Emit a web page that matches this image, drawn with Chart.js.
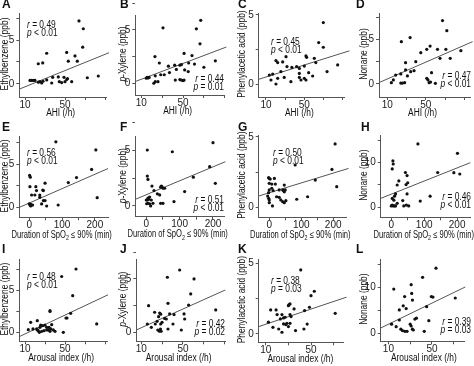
<!DOCTYPE html>
<html>
<head>
<meta charset="utf-8">
<script src="https://cdn.jsdelivr.net/npm/chart.js@4.4.1/dist/chart.umd.min.js"></script>
<style>
  body { margin: 0; background: #fff; }
  #wrap { position: relative; width: 474px; height: 366px; overflow: hidden; }
  #wrap canvas { position: absolute; }
</style>
</head>
<body>
<div id="wrap"></div>
<script>
// ---- data: [x, y] per subject ----
const ahiEthyl = [[64,7.2],[68.3,6.3],[67.7,4.2],[31.7,3.5],[51.7,3.6],[60,3.2],[23.3,2.3],[27.7,2.4],[53.3,2.6],[62.3,2.6],[72.3,0.7],[83.3,0.9],[15,0.4],[16.7,0.4],[18.3,0.4],[20,0.4],[23.3,0.2],[25,0.25],[26.7,0.1],[28,0.3],[31.7,0.45],[36.7,0.1],[37.7,0.75],[43.3,0.8],[44.3,0.25],[46.7,0.15],[49,0.75],[50,0.25],[51.7,0.5],[52.5,0.6],[56.7,0.25]];
const ahiXylene = [[67,5.9],[62.8,5.1],[30.8,5.2],[66.3,3.7],[51,2.8],[58.6,2.6],[23.1,2.5],[27.3,1.9],[55.4,1.9],[42,1.7],[47,1.7],[48.5,1.75],[61,1.8],[70,1.5],[81,2.1],[36,1.6],[43.6,1.3],[51.6,1.25],[55,1.1],[37,1.0],[28.6,0.8],[32,0.8],[23.4,0.7],[15.5,0.55],[16.5,0.5],[17.5,0.55],[14.8,0.47],[23.4,0.15],[26,0.15],[22,0],[42.6,0.3],[47,0.35],[48.4,0.3],[50,0.25],[51,0.3]];
const ahiPhenyl = [[69.8,4.45],[65,3.0],[69.8,2.66],[51.7,2.03],[52.4,1.93],[60.4,1.86],[62,1.55],[30.9,1.98],[20.4,1.7],[22.2,1.55],[27.4,1.6],[31.9,1.26],[37,1.2],[42,1.26],[44.8,1.13],[50,1.3],[54.5,0.82],[58.7,0.58],[73.7,0.9],[84.8,1.38],[13.5,0.65],[17,0.72],[15.2,0.29],[22.2,0.41],[29,0.48],[25.6,0.9],[36,0.17],[44.8,0.48],[46.5,0.29],[50,0.41],[51.7,0.29],[20.4,0.0],[44.8,0.77]];
const ahiNonane = [[67.4,7.1],[71.9,5.97],[33.7,5.2],[24.6,4.74],[54.5,4.25],[51,3.88],[62.2,3.88],[70.9,3.88],[86.5,3.73],[44.8,3.5],[64.8,2.87],[75.4,2.87],[29,2.39],[39.6,2.5],[37.8,1.49],[34.3,1.38],[29,1.57],[56,1.27],[18.7,1.0],[24,1.12],[30.9,0.9],[51,0.63],[52.3,0.45],[16.3,0.45],[14.2,0.15],[24,0.1],[25.7,0.1],[28,0.15],[53.5,0.15],[55,0.22],[60,0.07]];

const spoEthyl = [[81,7.6],[203,6.67],[190,4.4],[144,3.45],[119,2.87],[207,1.12],[1,3.7],[3,3.5],[2,2.4],[20,2.4],[48,2.8],[22,1.94],[43,1.94],[41,2.0],[32,1.43],[17,1.43],[7,1.43],[0,0.4],[2,0.27],[4,0.35],[7,0.27],[4,0.15],[10,0.27],[43,0.78],[48,0.78],[53,0.15],[37.6,0.39],[88,0.27],[32,1.16]];
const spoXylene = [[200,5.72],[3,5.06],[78,4.9],[190,3.55],[141,2.6],[3,2.7],[5,2.4],[207,2.05],[45,1.8],[43,1.7],[50,1.6],[55,1.6],[47,1.75],[17,1.8],[23,1.39],[33,1.1],[40,1.0],[115,1.3],[5,0.7],[10,0.8],[7,0.6],[3,0.54],[0,0.54],[15,0.54],[1,0.2],[5,0.24],[10,0.2],[20,0.24],[43,0.24],[50,0.24],[83,0.4],[13,0]];
const spoPhenyl = [[206,4.5],[81,3.0],[196,2.69],[144,1.93],[211,1.46],[0,2.05],[3,2.0],[-2,2.1],[0,1.7],[8,1.65],[16,2.05],[19,1.65],[47,1.58],[8,1.35],[12,1.18],[31,1.23],[42,1.23],[45,1.18],[50,1.23],[47,1.1],[0,1.23],[-2,1.04],[-5,0.8],[-2,0.64],[0,0.52],[23,0.75],[31,0.71],[36,0.52],[42,0.4],[47,0.33],[52,0.47],[0,0.33],[10,0.1],[86,0.57],[120,0.75]];
const spoNonane = [[81,14.2],[201,12.1],[5,10.4],[6,9.7],[3,8.6],[43,7.8],[48,7.1],[141,7.8],[190,7.76],[208,7.46],[23,5.9],[18,5.0],[50,5.5],[45,5.1],[48,3.0],[13,3.0],[10,2.5],[118,2.5],[35,1.5],[88,1.4],[3,2.0],[8,1.6],[18,0.9],[3,0.5],[6,0.3],[10,0.3],[13,0.3],[0,0.3],[38,0.3],[46,0.5],[53,0.3]];

const arEthyl = [[61,7.6],[46.7,6.7],[57.7,4.4],[35,2.6],[35,2.5],[55.7,2.28],[51,1.72],[52,1.72],[81.7,1.0],[15.7,1.2],[22.3,1.4],[25.7,0.85],[27.7,0.8],[30,0.85],[36.7,0.92],[34,0.6],[31.7,0.6],[13.3,0.32],[18,0.4],[21.7,0.4],[23.3,0.2],[24.3,0],[22.3,0.28],[26.7,0.12],[29,0.2],[31.7,0.28],[33.3,0.28],[35,0.12],[35.7,0.4],[38.3,0.28],[40,0.12],[48.3,0],[25,0.6]];
const arXylene = [[46.8,5.84],[35,5.16],[60.6,5.0],[57.4,3.6],[35.6,2.72],[55.4,2.56],[81.4,2.1],[17,2.5],[22.8,1.88],[27.6,1.8],[28.6,1.7],[37.2,1.72],[41.4,1.66],[51,1.72],[51.6,1.25],[26.6,1.47],[32.4,1.3],[34,1.25],[23.4,0.78],[25.2,1.03],[15.8,0.78],[19.6,0.47],[28.6,0.78],[29.9,0.94],[40.4,0.78],[25.8,0.22],[27.4,0.1],[29,0.1],[28.4,0.31],[35.6,0.31],[48.4,0.22]];
const arPhenyl = [[40.9,4.53],[52.9,3.02],[50,2.71],[71.4,1.46],[30.6,2.08],[31.4,2.12],[30,2.0],[35,1.77],[14.3,1.7],[19.1,1.7],[48.6,1.89],[44.3,1.65],[20,1.37],[24.3,1.37],[22.9,1.06],[25.7,1.13],[27.1,1.18],[31.4,1.37],[32.3,1.23],[12.3,0.83],[16.3,0.47],[21.4,0.35],[24.3,0.12],[25.7,0.71],[27.7,0.66],[28.6,0.75],[30,0.52],[36.3,0.24],[43.7,0.35],[46.6,0.7],[31.4,0.75]];
const arNonane = [[53.7,14.2],[41.4,12.2],[14.9,9.64],[30.9,10.6],[31.4,8.7],[24.9,8.0],[32.1,7.25],[49.4,8.0],[50.9,7.9],[71.4,7.7],[23.6,6.0],[26.3,5.4],[20,5.1],[45.1,5.8],[34.3,3.1],[35.7,3.3],[47.1,2.75],[12.9,2.0],[20,2.9],[17.1,1.45],[21.4,0.9],[22.9,0.6],[25.1,0.43],[27.1,0.43],[30,2.0],[30.9,1.6],[32,0.9],[32.9,0.72],[42.9,0.43]];

// regression lines, two end points each
const fits = {
  A: [[4.3,-0.6],[94,3.56]],  B: [[4.2,0.16],[91.6,3.4]],  C: [[2.3,0.34],[97,2.4]],  D: [[1.3,0.15],[98.7,4.74]],
  E: [[-30,0],[240,4.5]],     F: [[-33,0.6],[237,4.0]],    G: [[-33,0.8],[248,2.76]], H: [[-32,2.0],[240,10]],
  I: [[4.3,-0.52],[93,4.5]],  J: [[5.2,0.22],[90.6,3.97]], K: [[3.7,0.52],[81.4,2.6]], L: [[2.9,1.16],[80.6,10.1]]
};
const rValues = ['0.49','0.44','0.45','0.47','0.56','0.51','0.50','0.46','0.48','0.42','0.38','0.39'];
const pValues = ['< 0.01','= 0.01','< 0.01','< 0.01','< 0.01','< 0.01','< 0.01','< 0.01','< 0.01','= 0.02','= 0.03','= 0.03'];

// ---- titles (runs: [text, style]) ----
const yTitles = [
  [['Ethylbenzene (ppb)','n']],
  [['p','i'],['-Xylene (ppb)','n']],
  [['Phenylacetic acid (ppb)','n']],
  [['Nonane (ppb)','n']]
];
const xTitles = [
  [['AHI (/h)','n']],
  [['Duration of SpO','n'],['2','sub'],[' \u2264 90% (min)','n']],
  [['Arousal index (/h)','n']]
];

// ---- layout ----
const FF = '"Liberation Sans", Arial, sans-serif';
Chart.defaults.font.family = FF;
Chart.defaults.font.size = 10;
Chart.defaults.color = '#222';
const AXIS = '#555';
const NARROW = 0.84;   // the figure uses a condensed face
const xTitleSqueeze = [0.84, 0.76, 0.84];
const xTitleDy = [16, 18, 17];

const colX = [0, 118, 236, 354], colW = [118, 118, 118, 120];
const rowY = [0, 120, 244], rowH = [120, 124, 122];
const yTitleX = [5, 5, 6, 10];
const letterY = [5, 8, 6];

const panels = [
  { id:'A', pts: ahiEthyl,  area:[19.3,13,106,97],   xr:[4.3,91],  yr:[-1.5,8.1],  st:[27,25,'left'] },
  { id:'B', pts: ahiXylene, area:[17.3,15,106,95],   xr:[4.25,89.3], yr:[-1.1,6.4], st:[106,79,'right'] },
  { id:'C', pts: ahiPhenyl, area:[22.7,13,108,97],   xr:[2.4,91.4], yr:[-0.94,5.14], st:[35,42,'left'] },
  { id:'D', pts: ahiNonane, area:[25,13,116,97],     xr:[1.35,96],  yr:[-1.46,7.95], st:[117,76,'right'] },
  { id:'E', pts: spoEthyl,  area:[19.3,16.7,108,97.3], xr:[-30.5,240], yr:[-1.16,8.2], st:[27,33,'left'] },
  { id:'F', pts: spoXylene, area:[17.3,16.7,106,96.7], xr:[-33,233],   yr:[-0.97,6.26], st:[106,80,'right'] },
  { id:'G', pts: spoPhenyl, area:[22.7,15,110,97.3],   xr:[-33,240],   yr:[-0.71,5.13], st:[37,33,'left'] },
  { id:'H', pts: spoNonane, area:[26.7,15,117,97.3],   xr:[-32,239],   yr:[-2.24,16.2], st:[117,77,'right'] },
  { id:'I', pts: arEthyl,   area:[19.3,15,107,97.3],   xr:[4.3,92],    yr:[-1.08,8.8], st:[27,33,'left'] },
  { id:'J', pts: arXylene,  area:[18.3,15,107,97.3],   xr:[5.2,90.3],  yr:[-0.84,6.87], st:[107,80,'right'] },
  { id:'K', pts: arPhenyl,  area:[22.7,15,110,98.3],   xr:[3.7,78.6],  yr:[-0.59,5.3], st:[35,37,'left'] },
  { id:'L', pts: arNonane,  area:[26.7,15,117,97.3],   xr:[2.9,80.3],  yr:[-1.74,16.2], st:[117,78,'right'] }
];

function fontFor(style) {
  if (style === 'i') return 'italic 10px ' + FF;
  if (style === 'sub') return '7px ' + FF;
  if (style === 'b') return 'bold 12px ' + FF;
  return '10px ' + FF;
}

// draws mixed-style text, squeezed horizontally like the condensed original
function drawRuns(ctx, runs, x, y, align, squeeze) {
  const k = squeeze || NARROW;
  let total = 0;
  runs.forEach(([t, s]) => { ctx.font = fontFor(s); total += ctx.measureText(t).width; });
  let cx = align === 'left' ? 0 : align === 'right' ? -total : -total / 2;
  ctx.save();
  ctx.translate(x, y);
  ctx.scale(k, 1);
  ctx.textAlign = 'left';
  ctx.textBaseline = 'middle';
  runs.forEach(([t, s]) => {
    ctx.font = fontFor(s);
    ctx.fillText(t, cx, s === 'sub' ? 3 : 0);
    cx += ctx.measureText(t).width;
  });
  ctx.restore();
}

const wrap = document.getElementById('wrap');

panels.forEach((p, i) => {
  const col = i % 4, row = Math.floor(i / 4);
  const w = colW[col], h = rowH[row];
  const [l, t, r, b] = p.area;
  const canvas = document.createElement('canvas');
  canvas.width = w; canvas.height = h;
  canvas.style.left = colX[col] + 'px';
  canvas.style.top = rowY[row] + 'px';
  canvas.style.width = w + 'px'; canvas.style.height = h + 'px';
  wrap.appendChild(canvas);

  const xTicks = row === 1 ? [0, 50, 100, 150, 200] : [10, 30, 50, 70, 90];
  const xLabels = row === 1 ? [0, 100, 200] : [10, 50];
  const bigY = col === 3 && row > 0;
  const yTicks = bigY ? [0, 5, 10, 15] : [0, 2.5, 5, 7.5];
  const yLabels = bigY ? [0, 10] : [0, 5];

  const textPlugin = {
    id: 'panelText',
    afterDraw(chart) {
      const ctx = chart.ctx;
      ctx.save();
      ctx.fillStyle = '#111';
      ctx.font = fontFor('b');
      ctx.textAlign = 'left';
      ctx.textBaseline = 'middle';
      ctx.fillText(p.id, col === 3 && row === 1 ? 7 : 2, letterY[row]);
      // y title
      ctx.save();
      ctx.translate(yTitleX[col], (t + b) / 2 - 1);
      ctx.rotate(-Math.PI / 2);
      drawRuns(ctx, yTitles[col], 0, 0, 'center');
      ctx.restore();
      // x title
      drawRuns(ctx, xTitles[row], (l + r) / 2 - 2, b + xTitleDy[row], 'center', xTitleSqueeze[row]);
      // stats
      const [sx, sy, sa] = p.st;
      drawRuns(ctx, [['r', 'i'], [' = ' + rValues[i], 'n']], sx, sy, sa);
      drawRuns(ctx, [['p', 'i'], [' ' + pValues[i], 'n']], sx, sy + 8, sa);
      ctx.restore();
    }
  };

  new Chart(canvas, {
    type: 'scatter',
    data: {
      datasets: [
        { data: p.pts.map(([x, y]) => ({ x, y })), pointRadius: 1.6, pointBorderWidth: 0,
          pointBackgroundColor: '#111', showLine: false },
        { data: fits[p.id].map(([x, y]) => ({ x, y })), showLine: true, borderColor: '#555',
          borderWidth: 1, pointRadius: 0, clip: false }
      ]
    },
    options: {
      animation: false,
      responsive: false,
      devicePixelRatio: 1,
      layout: { padding: { top: t, right: w - r, left: 0, bottom: 0 } },
      plugins: { legend: { display: false }, tooltip: { enabled: false } },
      scales: {
        x: {
          type: 'linear', min: p.xr[0], max: p.xr[1],
          afterFit: s => { s.height = h - b; },
          afterBuildTicks: s => { s.ticks = xTicks.map(v => ({ value: v })); },
          ticks: { callback: v => xLabels.includes(v) ? String(v) : '', padding: -1,
                   maxRotation: 0, autoSkip: false, color: '#222', font: { size: 10 } },
          grid: { drawOnChartArea: false, drawTicks: true, tickLength: 3, color: AXIS },
          border: { color: AXIS, width: 1 }
        },
        y: {
          type: 'linear', min: p.yr[0], max: p.yr[1],
          afterFit: s => { s.width = l; },
          afterBuildTicks: s => { s.ticks = yTicks.map(v => ({ value: v })); },
          ticks: { callback: v => yLabels.includes(v) ? String(v) : '', padding: 2,
                   autoSkip: false, color: '#222', font: { size: 10 } },
          grid: { drawOnChartArea: false, drawTicks: true, tickLength: 3, color: AXIS },
          border: { color: AXIS, width: 1 }
        }
      }
    },
    plugins: [textPlugin]
  });
});
</script>
</body>
</html>
